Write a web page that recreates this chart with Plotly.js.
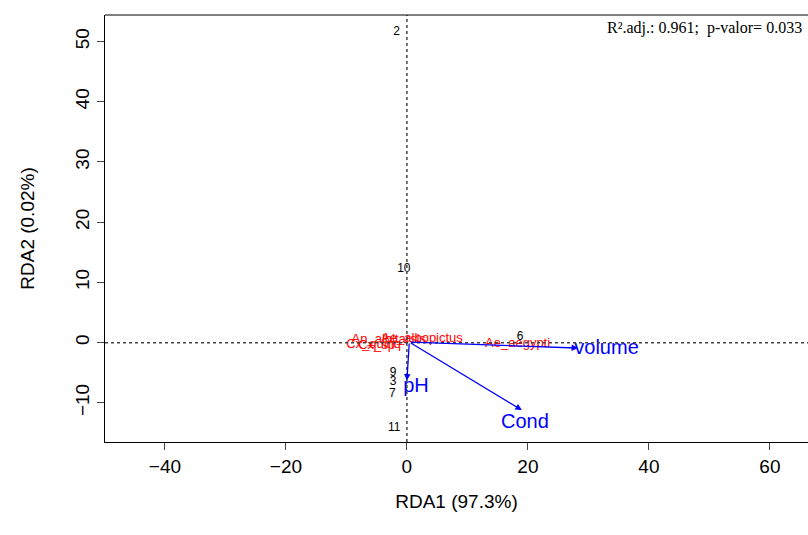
<!DOCTYPE html><html><head><script src="https://cdn.plot.ly/plotly-3.0.1.min.js"></script></head><body style="margin:0"><div id="c" style="width:808px;height:535px"></div><script>
const siteLabels=["2","10","6","9","3","7","11"];
const siteX=[-1.7,-0.5,18.7,-2.3,-2.3,-2.4,-2.1];
const siteY=[51.6,12.2,1.0,-5.0,-6.5,-8.6,-14.2];
const spLabels=["An_albitarsis","Cx_quinq","Ae_albopictus","Cx_sp","Ae_aegypti"];
const spX=[-3.0,-5.5,2.5,-5.0,18.3];
const spY=[0.5,-0.3,0.6,-0.6,-0.2];
const envLabels=["volume","pH","Cond"];
const envX=[28.3,0,19];
const envY=[-0.9,-6.3,-11.2];
const envLabX=[33,1.5,19.5];
const envLabY=[-1.1,-7.3,-13.3];
const shapes=[
 {type:'line',xref:'x',yref:'paper',x0:0,x1:0,y0:0,y1:1,line:{dash:'dot',color:'#444',width:1.5}},
 {type:'line',xref:'paper',yref:'y',x0:0,x1:1,y0:0,y1:0,line:{dash:'dot',color:'#444',width:1.5}},
 {type:'line',xref:'paper',yref:'paper',x0:0,x1:1,y0:1,y1:1,line:{color:'black',width:1}}
];
const ann=envLabels.map((l,i)=>({x:envX[i],y:envY[i],ax:0.4,ay:0.1,axref:'x',ayref:'y',xref:'x',yref:'y',showarrow:true,arrowhead:2,arrowsize:1,arrowwidth:1.3,arrowcolor:'blue',text:''}));
ann.push({xref:'paper',yref:'paper',x:0.995,y:0.995,xanchor:'right',yanchor:'top',showarrow:false,text:'R².adj.: 0.961;  p-valor= 0.033',font:{family:'Liberation Serif',size:16,color:'black'}});
Plotly.newPlot('c',[
 {x:siteX,y:siteY,text:siteLabels,mode:'text',textfont:{size:12,color:'black',family:'Liberation Sans'},hoverinfo:'none'},
 {x:spX,y:spY,text:spLabels,mode:'text',textfont:{size:13,color:'red',family:'Liberation Sans'},hoverinfo:'none'},
 {x:envLabX,y:envLabY,text:envLabels,mode:'text',textfont:{size:20,color:'blue',family:'Liberation Sans'},hoverinfo:'none'}
],{showlegend:false,paper_bgcolor:'white',plot_bgcolor:'white',margin:{l:105,r:0,t:15,b:93},font:{color:'black'},
 xaxis:{range:[-49.9,66.3],showgrid:false,zeroline:false,showline:true,linecolor:'black',ticks:'outside',ticklen:7,tickvals:[-40,-20,0,20,40,60],tickfont:{size:19,family:'Liberation Sans',color:'black'},title:{text:'RDA1 (97.3%)',font:{size:19,family:'Liberation Sans',color:'black'},standoff:18}},
 yaxis:{range:[-16.5,54.4],showgrid:false,zeroline:false,showline:true,linecolor:'black',ticks:'outside',ticklen:7,tickvals:[-10,0,10,20,30,40,50],tickangle:-90,tickfont:{size:19,family:'Liberation Sans',color:'black'},title:{text:'RDA2 (0.02%)',font:{size:19,family:'Liberation Sans',color:'black'},standoff:32}},
 shapes:shapes,annotations:ann},{displayModeBar:false});
</script></body></html>
